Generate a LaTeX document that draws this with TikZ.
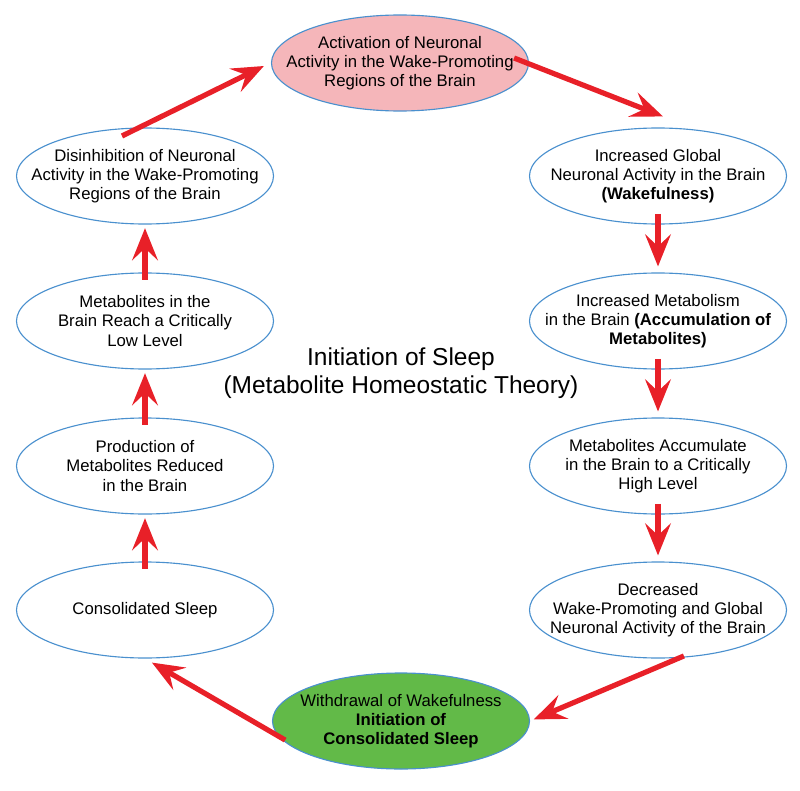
\documentclass[tikz,border=0pt]{standalone}
\usepackage{fontspec}
\setmainfont{Liberation Sans}
\usetikzlibrary{arrows.meta,shapes.geometric}
\definecolor{ringblue}{RGB}{74,144,206}
\definecolor{flowred}{RGB}{232,32,40}
\definecolor{wakepink}{RGB}{245,182,186}
\definecolor{sleepgreen}{RGB}{98,186,72}
\tikzset{
  stage/.style={ellipse, draw=ringblue, line width=0.8pt, minimum width=6.425cm, minimum height=2.4cm,
    inner xsep=-1cm, inner ysep=-0.5cm, align=center, font=\fontsize{11.9}{13.7}\selectfont},
  flow/.style={draw=flowred, line width=3.7pt, -{Stealth[length=0.8cm,width=0.64cm,inset=0.3cm]}},
  downflow/.style={flow, shorten <=-0.27cm, shorten >=0.15cm},
  upflow/.style={flow, shorten <=-0.18cm, shorten >=0.09cm},
}
\begin{document}
\begin{tikzpicture}
            \useasboundingbox (0,0) rectangle (20,-19.775);
            % the ring of stages
            \node[stage, fill=wakepink] (top) at (10,-1.575) {Activation of Neuronal\\Activity in the Wake-Promoting\\Regions of the Brain};
            \node[stage] (wake) at (16.45,-4.4) {Increased Global\\Neuronal Activity in the Brain\\\textbf{(Wakefulness)}};
            \node[stage] (metab) at (16.45,-8.025) {Increased Metabolism\\in the Brain \textbf{(Accumulation of}\\\textbf{Metabolites)}};
            \node[stage] (accum) at (16.45,-11.65) {Metabolites Accumulate\\in the Brain to a Critically\\High Level};
            \node[stage] (decr) at (16.45,-15.25) {Decreased\\Wake-Promoting and Global\\Neuronal Activity of the Brain};
            \node[stage, fill=sleepgreen] (withdraw) at (10.025,-18.025) {Withdrawal of Wakefulness\\\textbf{Initiation of}\\\textbf{Consolidated Sleep}};
            \node[stage] (consol) at (3.625,-15.25) {Consolidated Sleep};
            \node[stage] (prod) at (3.625,-11.65) {Production of\\Metabolites Reduced\\in the Brain};
            \node[stage] (low) at (3.625,-8.025) {Metabolites in the\\Brain Reach a Critically\\Low Level};
            \node[stage] (disinh) at (3.625,-4.4) {Disinhibition of Neuronal\\Activity in the Wake-Promoting\\Regions of the Brain};
            \node[align=center, font=\fontsize{17.4}{19.9}\selectfont] (title) at (10.025,-9.325) {Initiation of Sleep\\(Metabolite Homeostatic Theory)};
            % arrows
            \draw[flow] ([xshift=-0.375cm,yshift=0.125cm]top.east) -- ([xshift=0.125cm,yshift=0.275cm]wake.north);
            \draw[downflow] (wake.south) -- (metab.north);
            \draw[downflow] (metab.south) -- (accum.north);
            \draw[downflow] (accum.south) -- (decr.north);
            \draw[flow, shorten <=-0.125cm, shorten >=0.1cm] (decr.-66) -- (withdraw.east);
            \draw[flow, shorten <=-0.2cm, shorten >=0.2cm] (withdraw.187) -- (consol.south);
            \draw[upflow] (consol.north) -- (prod.south);
            \draw[upflow] (prod.north) -- (low.south);
            \draw[upflow] (low.north) -- (disinh.south);
            \draw[flow] ([shift={(-0.575,1.0)}]disinh.center) -- ([xshift=-0.175cm,yshift=-0.075cm]top.west);
        \end{tikzpicture}
\end{document}
